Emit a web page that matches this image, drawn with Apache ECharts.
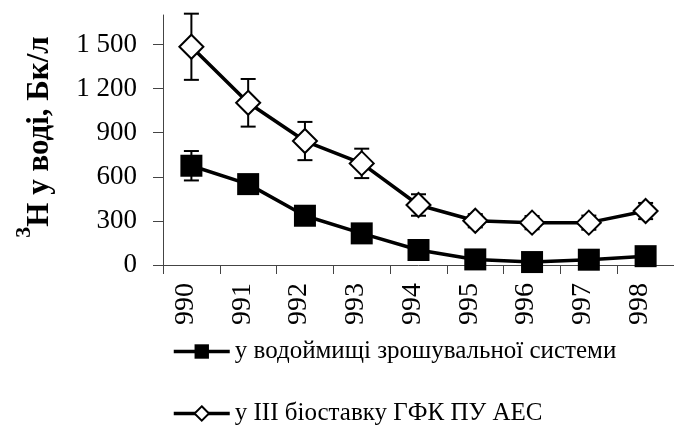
<!DOCTYPE html>
<html>
<head>
<meta charset="utf-8">
<script src="https://cdn.jsdelivr.net/npm/echarts@6/dist/echarts.min.js"></script>
<style>
html,body{margin:0;padding:0;background:#fff;}
#c{width:674px;height:425px;}
</style>
</head>
<body>
<div id="c"></div>
<script>
var categories = ['990','991','992','993','994','995','996','997','998'];
var reservoir = [675, 550, 335, 215, 102, 38, 20, 36, 60];
var reservoirErr = [100, 60, 40, 30, 20, 10, 10, 10, 10];
var biopond = [1484, 1103, 843, 691, 408, 301, 288, 288, 367];
var biopondErr = [225, 162, 130, 100, 73, 45, 45, 48, 55];
var yTicks = [0, 300, 600, 900, 1200, 1500];
var seriesNames = ['у водоймищі зрошувальної системи', 'у ІІІ біоставку ГФК ПУ АЕС'];
var yNameSup = '3';
var yNameMain = 'H у воді, Бк/л';

var FONT = '"Liberation Serif", "Times New Roman", serif';

function errData(vals, errs) {
  return vals.map(function (v, i) { return [i, v - errs[i], v + errs[i]]; });
}

function errRender(params, api) {
  var x = api.value(0);
  var lo = api.coord([x, api.value(1)]);
  var hi = api.coord([x, api.value(2)]);
  var hw = 7.5;
  var st = { stroke: '#000', lineWidth: 2 };
  return {
    type: 'group',
    children: [
      { type: 'line', shape: { x1: hi[0], y1: hi[1], x2: lo[0], y2: lo[1] }, style: st },
      { type: 'line', shape: { x1: hi[0] - hw, y1: hi[1], x2: hi[0] + hw, y2: hi[1] }, style: st },
      { type: 'line', shape: { x1: lo[0] - hw, y1: lo[1], x2: lo[0] + hw, y2: lo[1] }, style: st }
    ]
  };
}

var legendBase = {
  orient: 'horizontal',
  left: 167,
  itemWidth: 56,
  itemHeight: 18,
  lineStyle: { width: 3.5, color: '#000' },
  textStyle: { fontFamily: FONT, fontSize: 25, color: '#000' }
};

var chart = echarts.init(document.getElementById('c'));
chart.setOption({
  animation: false,
  backgroundColor: '#fff',
  textStyle: { fontFamily: FONT },
  grid: { left: 163, top: 15, bottom: 160, right: -2, containLabel: false },
  legend: [
    Object.assign({}, legendBase, { top: 334, data: [seriesNames[0]] }),
    Object.assign({}, legendBase, { top: 396, data: [seriesNames[1]] })
  ],
  xAxis: {
    type: 'category',
    data: categories,
    boundaryGap: true,
    axisLine: { lineStyle: { color: '#444', width: 1 } },
    axisTick: { show: true, length: 9, alignWithLabel: false, lineStyle: { color: '#444' } },
    axisLabel: { rotate: 90, margin: 18, fontSize: 28, color: '#000', fontFamily: FONT, interval: 0, verticalAlign: 'bottom', lineHeight: 12 },
    splitLine: { show: false }
  },
  yAxis: {
    type: 'value',
    min: 0,
    max: 1700,
    interval: 300,
    name: '{sup|' + yNameSup + '}{main|' + yNameMain + '}',
    nameLocation: 'middle',
    nameGap: 96,
    nameRotate: 90,
    nameTextStyle: {
      padding: [0, 0, 0, 6],
      rich: {
        sup: { fontFamily: FONT, fontSize: 22, fontWeight: 'bold', color: '#000', lineHeight: 22, verticalAlign: 'top' },
        main: { fontFamily: FONT, fontSize: 31, fontWeight: 'bold', color: '#000', lineHeight: 54, verticalAlign: 'middle' }
      }
    },
    axisLine: { show: true, lineStyle: { color: '#444', width: 1 } },
    axisTick: { show: true, length: 10, lineStyle: { color: '#444' }, customValues: yTicks },
    axisLabel: {
      margin: 26, fontSize: 27, color: '#000', fontFamily: FONT,
      customValues: yTicks,
      formatter: function (v) { return v >= 1000 ? Math.floor(v / 1000) + ' ' + String(v % 1000).padStart(3, '0') : String(v); }
    },
    splitLine: { show: false }
  },
  series: [
    {
      type: 'custom',
      name: 'err1',
      renderItem: errRender,
      data: errData(reservoir, reservoirErr),
      encode: { x: 0, y: [1, 2] },
      z: 1,
      silent: true
    },
    {
      type: 'custom',
      name: 'err2',
      renderItem: errRender,
      data: errData(biopond, biopondErr),
      encode: { x: 0, y: [1, 2] },
      z: 1,
      silent: true
    },
    {
      type: 'line',
      name: seriesNames[0],
      data: reservoir,
      symbol: 'rect',
      symbolSize: 22,
      lineStyle: { color: '#000', width: 3.5 },
      itemStyle: { color: '#000', borderColor: '#000', borderWidth: 0 },
      z: 3
    },
    {
      type: 'line',
      name: seriesNames[1],
      data: biopond,
      symbol: 'diamond',
      symbolSize: [24, 24],
      lineStyle: { color: '#000', width: 3.5 },
      itemStyle: { color: '#fff', borderColor: '#000', borderWidth: 2 },
      z: 3
    }
  ]
});
</script>
</body>
</html>
